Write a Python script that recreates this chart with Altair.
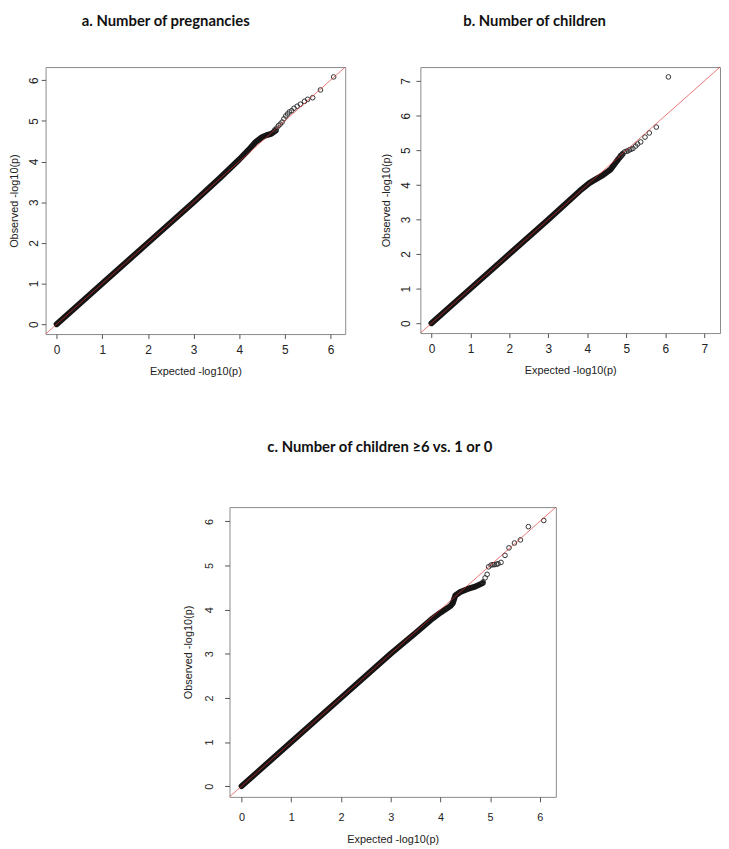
import altair as alt
import pandas as pd

# ---------------- data ----------------
# Panel a: Number of pregnancies
a_band_exp = [0, 1, 2, 3, 3.6, 4.0, 4.2, 4.35, 4.5, 4.6, 4.7, 4.8]
a_band_obs = [0, 1, 2, 3, 3.62, 4.05, 4.28, 4.47, 4.6, 4.65, 4.68, 4.76]
a_tail_exp = [4.78, 4.82, 4.86, 4.90, 4.94, 4.98, 5.02, 5.06, 5.10, 5.15, 5.20, 5.27, 5.34, 5.43, 5.50, 5.61, 5.78, 6.07]
a_tail_obs = [4.78, 4.82, 4.88, 4.92, 4.97, 5.05, 5.12, 5.17, 5.22, 5.25, 5.31, 5.36, 5.41, 5.48, 5.53, 5.57, 5.76, 6.08]

# Panel b: Number of children
b_band_exp = [0, 1, 2, 3, 3.8, 4.05, 4.2, 4.4, 4.6, 4.7, 4.8, 4.9]
b_band_obs = [0, 1, 2, 3, 3.82, 4.05, 4.15, 4.28, 4.45, 4.6, 4.75, 4.88]
b_tail_exp = [4.85, 4.90, 4.95, 5.00, 5.04, 5.08, 5.12, 5.17, 5.24, 5.29, 5.37, 5.48, 5.59, 5.77, 6.08]
b_tail_obs = [4.85, 4.90, 4.95, 4.97, 4.98, 5.01, 5.03, 5.05, 5.12, 5.18, 5.24, 5.38, 5.50, 5.67, 7.12]

# Panel c: Number of children >=6 vs. 1 or 0
c_band_exp = [0, 1, 2, 3, 3.5, 3.8, 4.0, 4.2, 4.25, 4.3, 4.4, 4.55, 4.7, 4.85]
c_band_obs = [0, 1, 2, 3, 3.47, 3.76, 3.93, 4.08, 4.15, 4.32, 4.4, 4.47, 4.52, 4.6]
c_tail_exp = [4.86, 4.90, 4.94, 4.97, 5.02, 5.06, 5.09, 5.13, 5.16, 5.22, 5.30, 5.38, 5.49, 5.61, 5.77, 6.08]
c_tail_obs = [4.63, 4.72, 4.80, 4.97, 5.01, 5.02, 5.02, 5.03, 5.04, 5.07, 5.23, 5.40, 5.51, 5.58, 5.88, 6.02]

diag_vals = [-1, 9]

titles = ["a. Number of pregnancies", "b. Number of children", "c. Number of children \u22656 vs. 1 or 0"]
x_title = "Expected -log10(p)"
y_title = "Observed -log10(p)"

LABEL_FONT = "Liberation Sans"


def panel(band_e, band_o, tail_e, tail_o, dom, ticks, w, h, title, title_dx, title_offset,
          lab_size, tick_size, lab_pad_x, lab_pad_y, title_pad_x, title_pad_y):
    band = pd.DataFrame({"e": band_e, "o": band_o, "i": list(range(len(band_e)))})
    tail = pd.DataFrame({"e": tail_e, "o": tail_o})
    diag = pd.DataFrame({"e": diag_vals, "o": diag_vals})

    xaxis = alt.Axis(values=ticks, title=x_title, grid=False, domain=False,
                     tickSize=tick_size, tickColor="#555", labelFont=LABEL_FONT,
                     labelFontSize=lab_size, labelColor="#222", labelPadding=lab_pad_x,
                     titleFont=LABEL_FONT, titleFontSize=11, titleFontWeight="normal",
                     titleColor="#222", titlePadding=title_pad_x, labelFlush=False)
    yaxis = alt.Axis(values=ticks, title=y_title, grid=False, domain=False,
                     tickSize=tick_size, tickColor="#555", labelFont=LABEL_FONT,
                     labelFontSize=lab_size, labelColor="#222", labelPadding=lab_pad_y,
                     labelAngle=270, labelAlign="center", labelBaseline="bottom",
                     titleFont=LABEL_FONT, titleFontSize=11, titleFontWeight="normal",
                     titleColor="#222", titlePadding=title_pad_y, labelFlush=False)
    xs = alt.Scale(domain=dom, nice=False, zero=False)
    ys = alt.Scale(domain=dom, nice=False, zero=False)

    band_l = alt.Chart(band).mark_line(color="#141414", strokeWidth=6, strokeCap="round",
                                       strokeJoin="round").encode(
        x=alt.X("e:Q", scale=xs, axis=xaxis),
        y=alt.Y("o:Q", scale=ys, axis=yaxis),
        order="i:Q")
    tail_l = alt.Chart(tail).mark_point(shape="circle", filled=False, color="#333",
                                        size=22, strokeWidth=1, opacity=1).encode(
        x=alt.X("e:Q", scale=xs, axis=xaxis),
        y=alt.Y("o:Q", scale=ys, axis=yaxis))
    diag_l = alt.Chart(diag).mark_line(color="#e03030", opacity=0.65, strokeWidth=1,
                                       clip=True).encode(
        x=alt.X("e:Q", scale=xs, axis=xaxis),
        y=alt.Y("o:Q", scale=ys, axis=yaxis))
    return alt.layer(band_l, tail_l, diag_l).properties(
        width=w, height=h,
        title=alt.TitleParams(title, font="Lato", fontSize=15, fontWeight="bold",
                              color="#111", anchor="middle", frame="group",
                              dx=title_dx, offset=title_offset))


pa = panel(a_band_exp, a_band_obs, a_tail_exp, a_tail_obs, [-0.243, 6.323], [0, 1, 2, 3, 4, 5, 6],
           303, 270, titles[0], -30, 39, 12, 4.5, 6, 1, 10, 8)
pb = panel(b_band_exp, b_band_obs, b_tail_exp, b_tail_obs, [-0.285, 7.405], [0, 1, 2, 3, 4, 5, 6, 7],
           303, 269, titles[1], -36, 39, 12, 4.5, 6, 3, 10, 9)
pc = panel(c_band_exp, c_band_obs, c_tail_exp, c_tail_obs, [-0.243, 6.323], [0, 1, 2, 3, 4, 5, 6],
           330, 293, titles[2], -13, 53, 11, 5, 10, 10, 11, 10)

spacer = alt.Chart(pd.DataFrame({"s": [0]})).mark_point(opacity=0).encode(
    x=alt.X("s:Q", axis=None), y=alt.Y("s:Q", axis=None)
).properties(width=138, height=10, view=alt.ViewBackground(strokeOpacity=0))

row1 = alt.hconcat(pa, pb, spacing=34)
row2 = alt.hconcat(spacer, pc, spacing=0)

chart = alt.vconcat(row1, row2, spacing=63).properties(padding=0).configure_view(
    stroke="#8a8a8a", strokeWidth=1)

chart.save("out.html", embed_options={"renderer": "svg", "actions": False})
